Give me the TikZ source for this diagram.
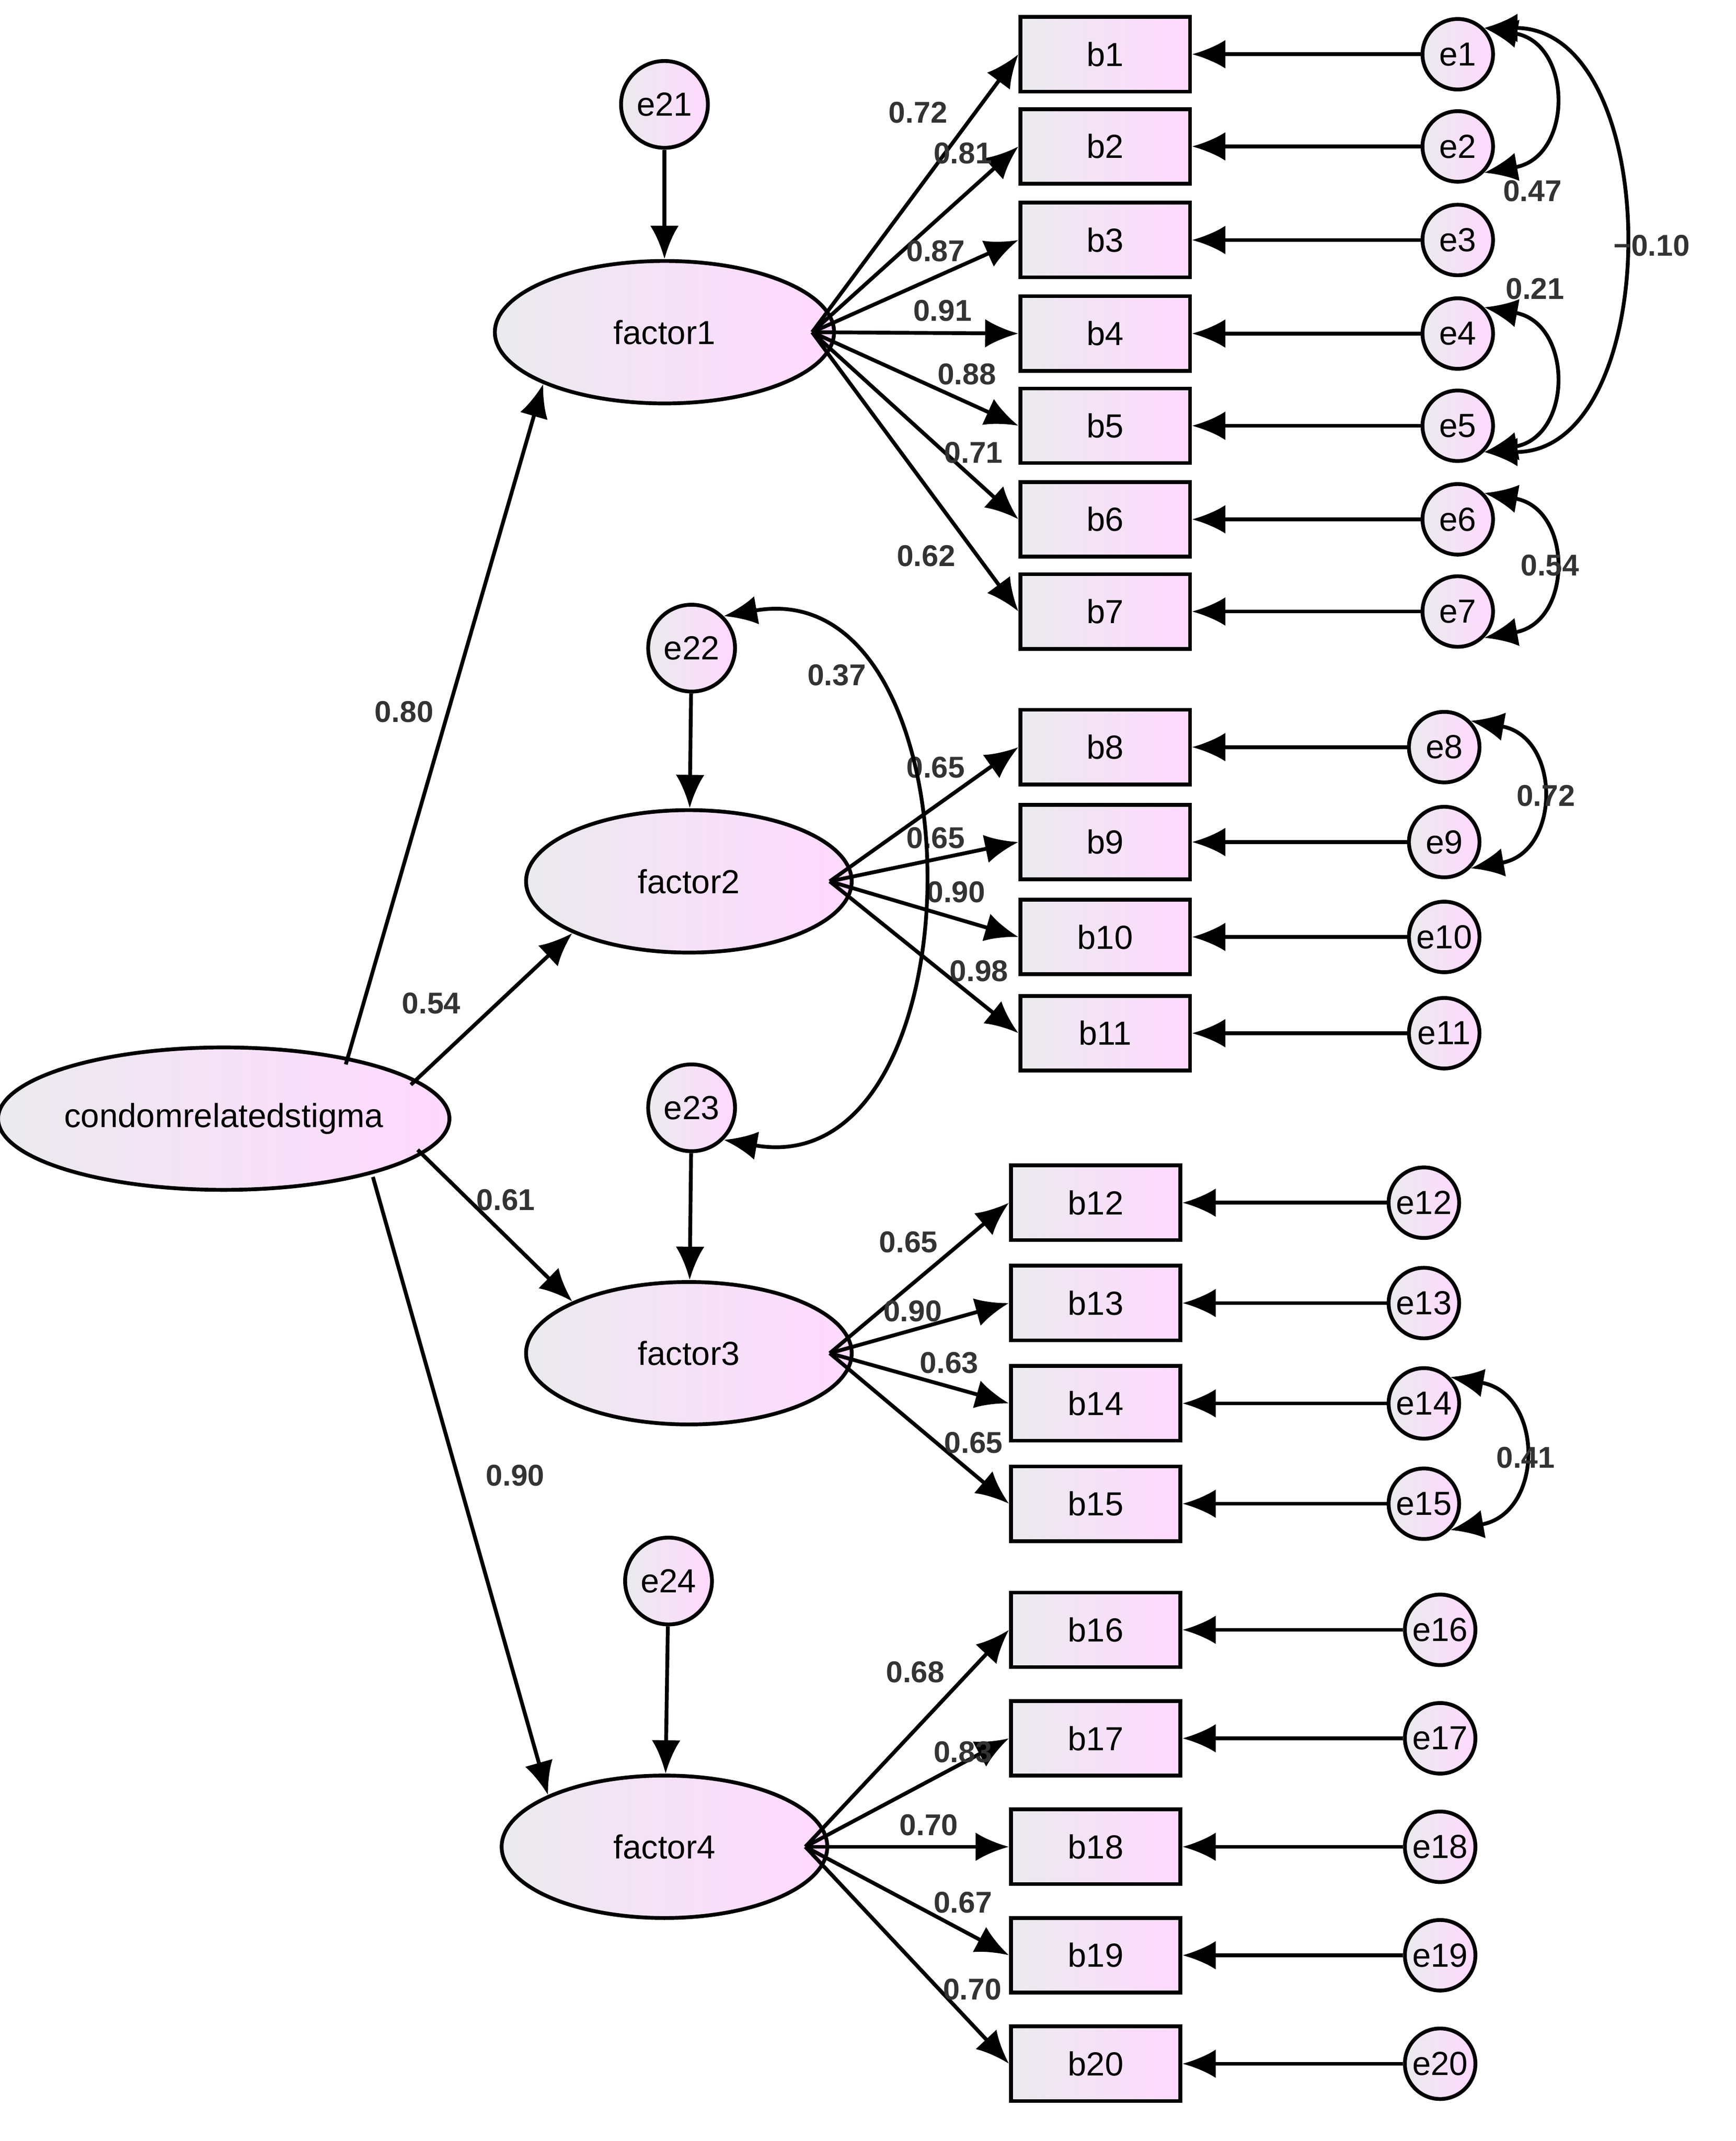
\documentclass[tikz,border=0pt]{standalone}
\usepackage{fontspec}
\setmainfont{Liberation Sans}
\usetikzlibrary{arrows.meta,positioning,shapes.geometric}
\tikzset{
  shd/.style={left color=blue!8!gray!15, right color=magenta!15, draw=black, thick},
  lat/.style={shd, ellipse, minimum width=#1, minimum height=1.05cm, inner sep=0pt},
  obs/.style={shd, rectangle, minimum width=1.25cm, minimum height=0.55cm},
  err/.style={shd, circle, minimum size=0.52cm, inner sep=0pt},
  reg/.style={thick, -{Latex[length=7pt,width=6pt]}},
  cov/.style={thick, {Latex[length=7pt,width=6pt]}-{Latex[length=7pt,width=6pt]}},
  lbl/.style={font=\fontsize{6.3}{7}\selectfont\bfseries\color{black!80}, inner sep=1pt}
}
\begin{document}
\begin{tikzpicture}[x=0.01cm, y=-0.01cm, font=\fontsize{7}{8}\selectfont]
  \useasboundingbox (0,0) rectangle (1280,1579);
  % latent variables
  \node[lat=3.1cm] (stig) at (165,825) {condomrelatedstigma};
  \node[lat=2.5cm] (f1) at (490,245) {factor1};
  \node[lat=2.4cm] (f2) at (508,650) {factor2};
  \node[lat=2.4cm] (f3) at (508,998) {factor3};
  \node[lat=2.4cm] (f4) at (490,1362) {factor4};
  \node[err, minimum size=0.64cm] (e21) at (490,77) {e21};
  \node[err, minimum size=0.64cm] (e22) at (510,478) {e22};
  \node[err, minimum size=0.64cm] (e23) at (510,817) {e23};
  \node[err, minimum size=0.64cm] (e24) at (493,1166) {e24};
  \foreach \e/\f in {e21/f1,e22/f2,e23/f3,e24/f4}
    \draw[reg] (\e) -- (\f);
  % second order paths
  \coordinate (s1) at (255,785);
  \coordinate (s2) at (303,800);
  \coordinate (s3) at (308,848);
  \coordinate (s4) at (275,868);
  \draw[reg] (s1) -- (f1.south west);
  \draw[reg] (s2) -- (f2.south west);
  \draw[reg] (s3) -- (f3.north west);
  \draw[reg] (s4) -- (f4.north west);
  \node[lbl] (l80) at (298,525) {0.80};
  \node[lbl] (l54) at (318,740) {0.54};
  \node[lbl] (l61) at (373,885) {0.61};
  \node[lbl] (l90) at (380,1088) {0.90};
  % indicators
  \foreach \i/\x/\y/\ex/\f/\lx/\ly/\v in {
      1/815/40/1075/f1/677/83/0.72, 2/815/108/1075/f1/710/113/0.81,
      3/815/177/1075/f1/690/185/0.87, 4/815/246/1075/f1/695/229/0.91,
      5/815/314/1075/f1/713/276/0.88, 6/815/383/1075/f1/718/334/0.71,
      7/815/451/1075/f1/683/410/0.62,
      8/815/551/1065/f2/690/566/0.65, 9/815/621/1065/f2/690/618/0.65,
      10/815/691/1065/f2/705/658/0.90, 11/815/762/1065/f2/722/716/0.98,
      12/808/887/1050/f3/670/916/0.65, 13/808/961/1050/f3/673/967/0.90,
      14/808/1035/1050/f3/700/1005/0.63, 15/808/1109/1050/f3/718/1064/0.65,
      16/808/1202/1062/f4/675/1233/0.68, 17/808/1282/1062/f4/710/1292/0.83,
      18/808/1362/1062/f4/685/1346/0.70, 19/808/1442/1062/f4/710/1403/0.67,
      20/808/1522/1062/f4/717/1467/0.70} {
    \node[obs] (b\i) at (\x,\y) {b\i};
    \node[err] (e\i) at (\ex,\y) {e\i};
    \draw[reg] (e\i) -- (b\i);
    \draw[reg] ([xshift=-5]\f.east) -- (b\i.west);
    \node[lbl] at (\lx,\ly) {\v};
  }
  % covariances
  \draw[cov] (e1.north east) to[out=-10,in=10,looseness=1.6] (e2.south east);
  \node[lbl] (c12) at (1130,141) {0.47};
  \draw[cov] (e1.north east) to[out=0,in=0,looseness=1.1] (e5.south east);
  \node[lbl] (c15) at (1218,181) {−0.10};
  \draw[cov] (e4.north east) to[out=-10,in=10,looseness=1.6] (e5.south east);
  \node[lbl] (c45) at (1132,213) {0.21};
  \draw[cov] (e6.north east) to[out=-10,in=10,looseness=1.6] (e7.south east);
  \node[lbl] (c67) at (1143,417) {0.54};
  \draw[cov] (e8.north east) to[out=-10,in=10,looseness=1.6] (e9.south east);
  \node[lbl] (c89) at (1140,587) {0.72};
  \draw[cov] (e14.north east) to[out=-10,in=10,looseness=1.6] (e15.south east);
  \node[lbl] (c1415) at (1125,1075) {0.41};
  \draw[cov] (e22.north east) to[out=10,in=-10,looseness=1.3] (e23.south east);
  \node[lbl] (c2223) at (617,498) {0.37};
\end{tikzpicture}
\end{document}
